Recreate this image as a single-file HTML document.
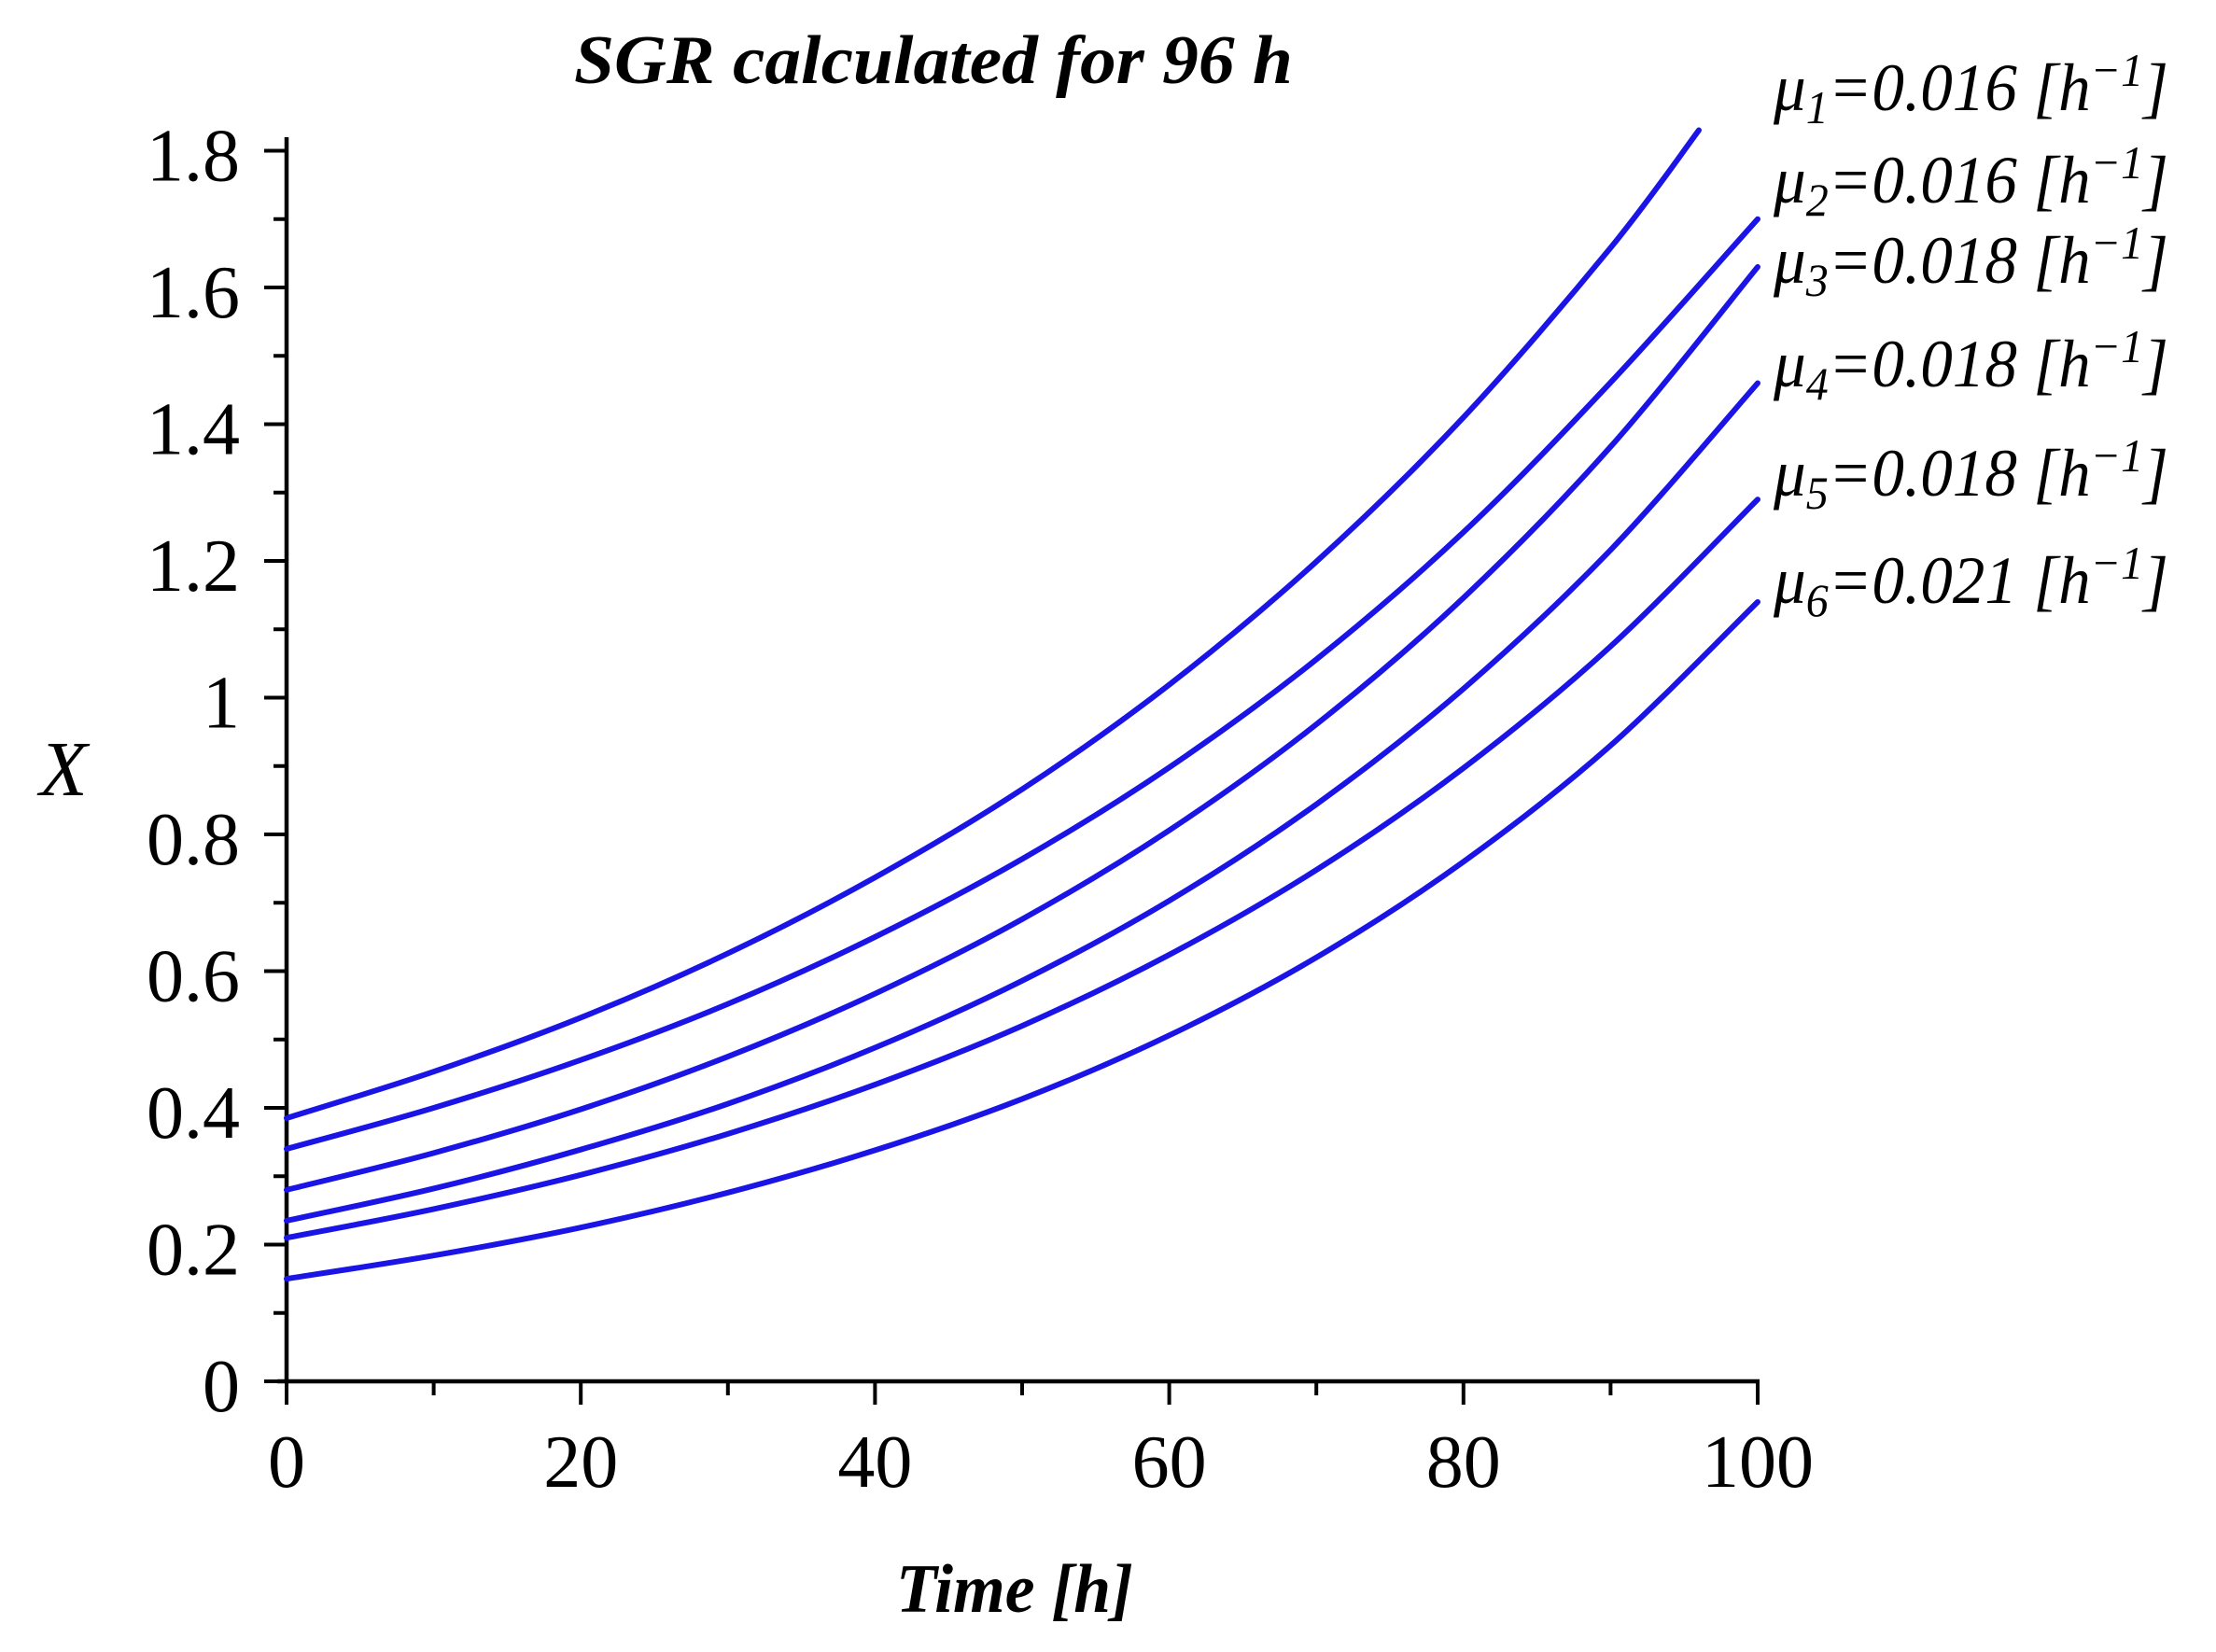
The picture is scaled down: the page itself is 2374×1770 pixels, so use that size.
<!DOCTYPE html>
<html>
<head>
<meta charset="utf-8">
<style>
  html,body{margin:0;padding:0;background:#fff;}
  svg{display:block;}
  text{font-family:"Liberation Serif", serif;fill:#000;}
</style>
</head>
<body>
<svg id="chart" width="2374" height="1770" viewBox="0 0 2374 1770" xmlns="http://www.w3.org/2000/svg" xml:space="preserve">
  <text x="1000" y="89" text-anchor="middle" font-size="74" font-style="italic" font-weight="bold" textLength="770" lengthAdjust="spacingAndGlyphs">SGR calculated for 96 h</text>
  <text x="68" y="852" text-anchor="middle" font-size="84" font-style="italic">X</text>
  <text x="1087" y="1727" text-anchor="middle" font-size="74" font-style="italic" font-weight="bold" textLength="254" lengthAdjust="spacingAndGlyphs">Time [h]</text>
  <g id="axes"></g>
  <g id="series"></g>
  <g id="legend"></g>
</svg>
<script>
const times = [0,10,20,30,40,50,60,70,80,90,100];
const series1 = [0.385,0.453,0.532,0.626,0.737,0.866,1.019,1.199,1.410,1.658,null];
const series1End = [96,1.83];
const series2 = [0.34,0.400,0.470,0.552,0.650,0.764,0.898,1.056,1.242,1.461,1.70];
const series3 = [0.28,0.334,0.398,0.475,0.567,0.676,0.806,0.961,1.146,1.367,1.63];
const series4 = [0.235,0.282,0.339,0.406,0.488,0.586,0.703,0.844,1.013,1.216,1.46];
const series5 = [0.21,0.252,0.302,0.362,0.434,0.520,0.624,0.748,0.897,1.075,1.29];
const series6 = [0.15,0.184,0.225,0.276,0.338,0.413,0.506,0.620,0.760,0.930,1.14];
const xTickLabels = ["0","20","40","60","80","100"];
const yTickLabels = ["0","0.2","0.4","0.6","0.8","1","1.2","1.4","1.6","1.8"];
const legendSubs = ["1","2","3","4","5","6"];
const legendValues = ["0.016","0.016","0.018","0.018","0.018","0.021"];

const NS = "http://www.w3.org/2000/svg";
const X0 = 307, X1 = 1883, Y0 = 1480, PXY = 732.5;
function xs(t){ return X0 + (X1 - X0) * t / 100; }
function ys(v){ return Y0 - v * PXY; }
function mk(tag, attrs, parent){
  const e = document.createElementNS(NS, tag);
  for (const k in attrs) e.setAttribute(k, attrs[k]);
  parent.appendChild(e);
  return e;
}
const axes = document.getElementById('axes');
let yAxis = mk('line', {x1:X0, y1:147, x2:X0, y2:Y0+2, stroke:'#000','stroke-width':4.5}, axes);


let xAxis = mk('line', {x1:X0-10, y1:Y0, x2:X1+2, y2:Y0, stroke:'#000','stroke-width':4.5}, axes);



for (let i = 0; i <= 18; i++) {
  const v = i / 10, y = ys(v), major = i % 2 === 0;
  const tk = mk('line', {x1:X0-(major?24:14), y1:y, x2:X0, y2:y, stroke:'#000','stroke-width':4}, axes);
  
  
}
yTickLabels.forEach((lab, i) => {
  const t = mk('text', {x:257, y:ys(i*0.2)+32, 'text-anchor':'end', 'font-size':80}, axes);
  t.textContent = lab;
  
  
});
for (let i = 0; i <= 10; i++) {
  const x = xs(i*10), major = i % 2 === 0;
  const tk = mk('line', {x1:x, y1:Y0, x2:x, y2:Y0+(major?25:15), stroke:'#000','stroke-width':4}, axes);
  
  
}
xTickLabels.forEach((lab, i) => {
  const t = mk('text', {x:xs(i*20), y:1593, 'text-anchor':'middle', 'font-size':80}, axes);
  t.textContent = lab;
  
  
});

function smoothPath(pts){
  let d = `M${pts[0][0]},${pts[0][1]}`;
  for (let i = 0; i < pts.length - 1; i++) {
    const p0 = pts[Math.max(0,i-1)], p1 = pts[i], p2 = pts[i+1], p3 = pts[Math.min(pts.length-1,i+2)];
    const c1x = p1[0] + (p2[0]-p0[0])/6, c1y = p1[1] + (p2[1]-p0[1])/6;
    const c2x = p2[0] - (p3[0]-p1[0])/6, c2y = p2[1] - (p3[1]-p1[1])/6;
    d += ` C${c1x},${c1y} ${c2x},${c2y} ${p2[0]},${p2[1]}`;
  }
  return d;
}
const allSeries = [series1, series2, series3, series4, series5, series6];
const sg = document.getElementById('series');
allSeries.forEach((s, idx) => {
  const pts = [];
  s.forEach((v, i) => { if (v !== null) pts.push([xs(times[i]), ys(v)]); });
  if (idx === 0) pts.push([xs(series1End[0]), ys(series1End[1])]);
  const p = mk('path', {d:smoothPath(pts), fill:'none', stroke:'#1a14e6', 'stroke-width':6, 'stroke-linecap':'round'}, sg);
  
  
});

const legendY = [118, 217, 303, 414, 531, 646];
const lg = document.getElementById('legend');
legendSubs.forEach((sub, i) => {
  const t = mk('text', {x:1900, y:legendY[i], 'font-size':72, 'font-style':'italic', textLength:423, lengthAdjust:'spacingAndGlyphs'}, lg);
  
  
  const a = mk('tspan', {}, t); a.textContent = 'μ';
  const b = mk('tspan', {'font-size':50, dy:14}, t); b.textContent = sub;
  const c = mk('tspan', {dy:-14}, t); c.textContent = '=' + legendValues[i] + '  [h';
  const d = mk('tspan', {'font-size':50, dy:-26}, t); d.textContent = '−1';
  const e = mk('tspan', {dy:26}, t); e.textContent = ']';
});
</script>
</body>
</html>
